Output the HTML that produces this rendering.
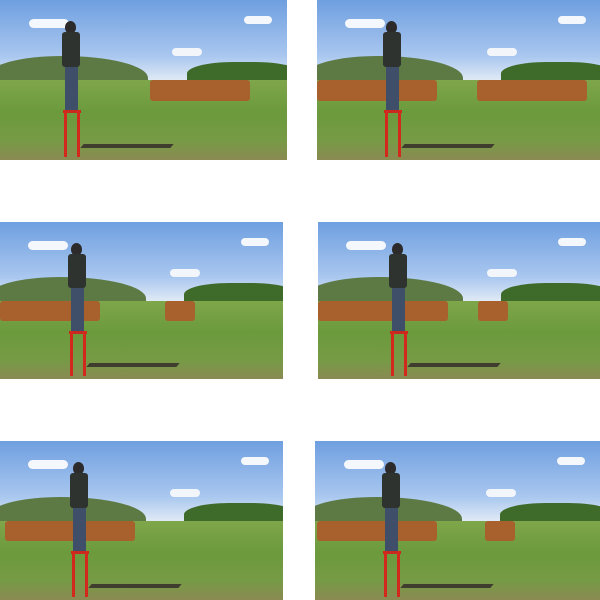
<!DOCTYPE html>
<html><head><meta charset="utf-8"><style>
html,body{margin:0;padding:0;background:#fff;width:600px;height:600px;overflow:hidden}
.p{position:absolute;overflow:hidden}
.p div{position:absolute}
</style></head><body>
<div id="root"></div>
<script>
// panel: x, y, w, h, person x (relative), cows config
const panelX=[0,317,0,318,0,315];
const panelY=[0,0,222,222,441,441];
const panelW=[287,283,283,282,283,285];
const panelH=[160,160,157,157,159,159];
const personX=[62,66,68,71,70,67];
const cowGroups=[[[150,100],[205,45]],[[0,120],[160,110]],[[0,100],[165,30]],[[0,130],[160,30]],[[5,130]],[[2,120],[170,30]]];
const root=document.getElementById('root');
function mk(par,name,css){const d=document.createElement('div');


d.style.cssText=css;par.appendChild(d);return d;}
for(let i=0;i<6;i++){
 const w=panelW[i],h=panelH[i];
 const p=mk(root,'photo-panel-'+(i+1),`left:${panelX[i]}px;top:${panelY[i]}px;width:${w}px;height:${h}px;background:linear-gradient(#6f9fe0 0%,#a9c7ef 35%,#dfe9f5 50%,#e8eef2 54%)`);
 p.className='p';
 // clouds
 mk(p,'cloud',`left:${w*0.1}px;top:${h*0.12}px;width:40px;height:9px;border-radius:6px;background:#f4f7fb`);
 mk(p,'cloud',`left:${w*0.6}px;top:${h*0.3}px;width:30px;height:8px;border-radius:6px;background:#f2f6fb`);
 mk(p,'cloud',`left:${w*0.85}px;top:${h*0.1}px;width:28px;height:8px;border-radius:6px;background:#f4f7fb`);
 // hills
 mk(p,'hill-left',`left:-10px;top:${h*0.35}px;width:${w*0.55}px;height:${h*0.25}px;border-radius:50% 60% 0 0;background:#5d7a45`);
 mk(p,'trees-right',`left:${w*0.65}px;top:${h*0.39}px;width:${w*0.4}px;height:${h*0.18}px;border-radius:40% 40% 0 0;background:#3f6b2a`);
 // grass
 mk(p,'grass',`left:0;top:${h*0.5}px;width:${w}px;height:${h*0.5}px;background:linear-gradient(#7fa64a,#6b9a3c 40%,#769b45 75%,#8a8a52)`);
 // cows
 cowGroups[i].forEach(g=>mk(p,'cow-herd',`left:${g[0]}px;top:${h*0.5}px;width:${g[1]}px;height:${h*0.13}px;background:#a8602c;border-radius:3px`));
 // shadow
 mk(p,'shadow',`left:${personX[i]+20}px;top:${h*0.9}px;width:90px;height:4px;background:#3e3d2e;transform:skewX(-40deg)`);
 // person
 const px=personX[i];
 mk(p,'person-head',`left:${px+3}px;top:${h*0.1+5}px;width:11px;height:13px;border-radius:50%;background:#2c2a2a`);
 mk(p,'person-body',`left:${px}px;top:${h*0.1+16}px;width:18px;height:${h*0.22}px;background:#2f3330;border-radius:3px`);
 mk(p,'person-legs',`left:${px+3}px;top:${h*0.1+16+h*0.22}px;width:13px;height:${h*0.27}px;background:#3f4f6a`);
 // stool
 const st=h*0.1+16+h*0.49;
 mk(p,'stool-top',`left:${px+1}px;top:${st}px;width:18px;height:3px;background:#c82a20`);
 mk(p,'stool-leg',`left:${px+2}px;top:${st}px;width:3px;height:${h-st-3}px;background:#d3281c`);
 mk(p,'stool-leg',`left:${px+15}px;top:${st}px;width:3px;height:${h-st-3}px;background:#d3281c`);
}
</script>
</body></html>
